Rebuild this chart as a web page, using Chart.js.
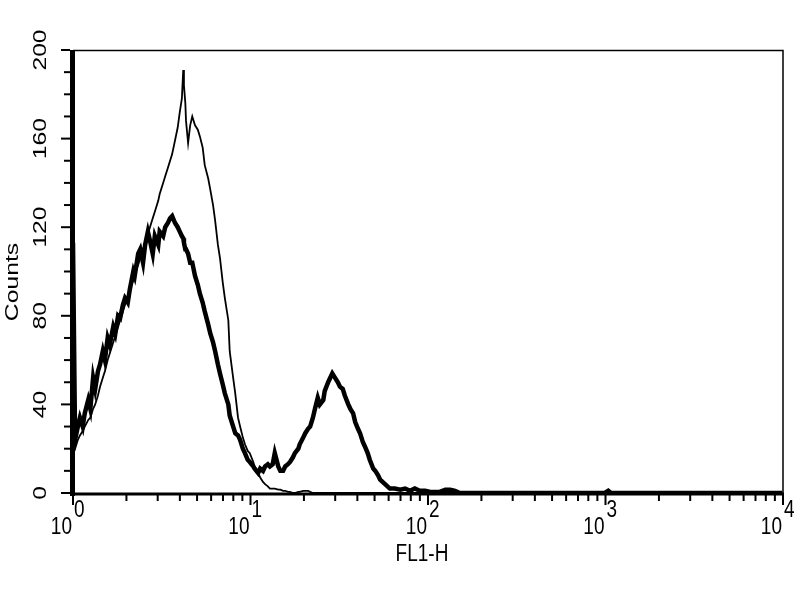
<!DOCTYPE html>
<html>
<head>
<meta charset="utf-8">
<title>FL1-H histogram</title>
<script src="https://cdn.jsdelivr.net/npm/chart.js@4/dist/chart.umd.min.js"></script>
<style>
    html, body { margin: 0; padding: 0; background: #fff; }
    #wrap { width: 800px; height: 600px; }
</style>
</head>
<body>
<div id="wrap"><canvas id="histChart" width="800" height="600"></canvas></div>
<script>
// FL1-H histogram (log channels, 1024 channels over 4 decades)

const channels = [0, 3, 7, 10, 14, 17, 22, 25, 29, 32, 36, 39, 43, 46, 50, 53, 58, 61, 65, 68,
    72, 75, 79, 82, 87, 89, 94, 97, 101, 104, 108, 111, 115, 118, 123, 125, 130, 133, 137, 140,
    143, 147, 151, 154, 157, 159, 160, 162, 163, 166, 169, 172, 176, 180, 183, 187, 190, 195, 198, 202,
    205, 209, 212, 216, 219, 224, 226, 231, 234, 238, 241, 245, 248, 252, 255, 260, 262, 267, 270, 274,
    277, 281, 284, 288, 291, 296, 299, 303, 306, 310, 313, 317, 320, 325, 327, 332, 335, 339, 342, 346,
    349, 353, 356, 361, 363, 368, 371, 374, 378, 382, 385, 389, 392, 397, 400, 404, 407, 411, 414, 418,
    421, 425, 428, 433, 436, 440, 443, 450, 457, 464, 472, 479, 486, 493, 500, 508, 515, 529, 537, 544,
    551, 558, 587, 760, 767, 772, 776, 904, 1023];

// thick line
const sampleCounts = [113, 24, 30, 34, 30, 36, 42, 38, 52, 47, 55, 58, 64, 60, 70, 67, 75, 72, 80, 79,
    85, 88, 86, 92, 100, 98, 108, 110, 104, 112, 118, 114, 108, 116, 112, 118, 116, 120, 122, 124,
    125, 122, 120, 118, 116, 115, 113, 110, 110, 108, 104, 104, 98, 94, 90, 86, 82, 76, 72, 68,
    64, 58, 54, 49, 45, 40, 35, 30, 27, 26, 24, 20, 18, 15, 14, 12, 11, 9, 11, 10,
    12, 13, 12, 13, 18, 12, 10, 10, 12, 13, 14, 16, 18, 20, 22, 25, 27, 29, 30, 34,
    38, 43, 40, 42, 46, 50, 52, 54, 52, 50, 48, 47, 44, 40, 38, 36, 32, 29, 27, 23,
    21, 18, 15, 11, 10, 8, 6, 4, 2, 2, 1.5, 2, 1, 2, 1, 1, 0.5, 0.5, 1.5, 1.5,
    1, 0, 0, 0, 0, 1, 0, 0, 0];

// thin line
const controlCounts = [22, 20, 24, 26, 28, 30, 33, 34, 38, 40, 44, 48, 52, 55, 60, 63, 68, 71, 75, 78,
    82, 85, 89, 92, 96, 99, 103, 106, 110, 113, 117, 120, 124, 127, 132, 135, 140, 143, 147, 150,
    153, 159, 165, 172, 178, 191, 184, 176, 168, 158, 166, 170, 166, 164, 161, 156, 148, 142, 137, 130,
    123, 112, 106, 95, 88, 78, 64, 52, 45, 34, 30, 25, 22, 19, 18, 14, 12, 9, 7, 5,
    4, 3, 2, 2, 2, 1.5, 1.5, 1, 1, 0.5, 0.5, 0, 0, 0.5, 0.5, 1, 1, 1, 0.5, 0,
    0, 0, 0, 0, 0, 0, 0, 0, 0, 0, 0, 0, 0, 0, 0, 0, 0, 0, 0, 0,
    0, 0, 0, 0, 0, 0, 0, 0, 0, 0, 0, 0, 0, 0, 0, 0, 0, 0, 0, 0,
    0, 0, 0, 0, 0, 0, 0, 0, 0];

const yTicks = [0, 40, 80, 120, 160, 200];
const yTickLabels = ['0', '40', '80', '120', '160', '200'];
const xDecades = [1, 10, 100, 1000, 10000];
const xExponents = ['0', '1', '2', '3', '4'];

const CHANNELS_PER_DECADE = 256;
const TEXT_STRETCH = 1.3;
const FONT = '19px "Liberation Sans", Arial, sans-serif';

function toPoints(counts) {
    return channels.map((ch, i) => ({ x: Math.pow(10, ch / CHANNELS_PER_DECADE), y: counts[i] }));
}

function drawText(ctx, text, px, py, rotated, align, baseline) {
    ctx.save();
    ctx.translate(px, py);
    if (rotated) {
        ctx.rotate(-Math.PI / 2);
        ctx.scale(TEXT_STRETCH, 1);
    } else {
        ctx.scale(1, TEXT_STRETCH);
    }
    ctx.textAlign = align;
    ctx.textBaseline = baseline;
    ctx.fillText(text, 0, 0);
    ctx.restore();
}

// frame, ticks and labels drawn from the chart's own scales
const facsAxes = {
    id: 'facsAxes',
    afterDraw(chart) {
        const { ctx, chartArea: a } = chart;
        const xs = chart.scales.x;
        const ys = chart.scales.y;
        ctx.save();
        ctx.strokeStyle = '#000';
        ctx.fillStyle = '#000';
        ctx.lineCap = 'butt';

        // top and right, thin
        ctx.lineWidth = 1.5;
        ctx.beginPath();
        ctx.moveTo(a.left, a.top + 0.5);
        ctx.lineTo(a.right, a.top + 0.5);
        ctx.lineTo(a.right, a.bottom);
        ctx.stroke();

        // bottom axis
        ctx.lineWidth = 3;
        ctx.beginPath();
        ctx.moveTo(a.left, a.bottom + 1);
        ctx.lineTo(a.right + 1, a.bottom + 1);
        ctx.stroke();

        // left axis, heavy
        ctx.lineWidth = 5;
        ctx.beginPath();
        ctx.moveTo(a.left - 0.5, a.top);
        ctx.lineTo(a.left - 0.5, a.bottom + 3);
        ctx.stroke();

        // y ticks every 10 counts
        ctx.lineWidth = 2;
        for (let v = 0; v <= 200; v += 10) {
            const py = ys.getPixelForValue(v);
            const len = (v % 40 === 0) ? 9 : 6;
            ctx.beginPath();
            ctx.moveTo(a.left - 3 - len, py);
            ctx.lineTo(a.left - 3, py);
            ctx.stroke();
        }

        // x ticks, decades and 2..9 minors
        xDecades.forEach((d, i) => {
            for (let m = 1; m <= 9; m++) {
                if (i === xDecades.length - 1 && m > 1) break;
                const px = xs.getPixelForValue(d * m);
                const len = m === 1 ? 10 : 6;
                ctx.beginPath();
                ctx.moveTo(px, a.bottom + 2);
                ctx.lineTo(px, a.bottom + 2 + len);
                ctx.stroke();
            }
        });

        ctx.font = FONT;

        // y labels, rotated
        yTicks.forEach((v, i) => {
            drawText(ctx, yTickLabels[i], 41, ys.getPixelForValue(v), true, 'center', 'middle');
        });

        // x labels as 10 with raised exponent
        xDecades.forEach((d, i) => {
            const px = xs.getPixelForValue(d);
            drawText(ctx, '10', px - 1, 534, false, 'right', 'alphabetic');
            drawText(ctx, xExponents[i], px + 1, 517, false, 'left', 'alphabetic');
        });

        drawText(ctx, 'Counts', 13, 282, true, 'center', 'middle');
        drawText(ctx, 'FL1-H', 422, 561, false, 'center', 'alphabetic');
        ctx.restore();
    }
};

const ctx = document.getElementById('histChart').getContext('2d');

new Chart(ctx, {
    type: 'line',
    data: {
        datasets: [
            {
                label: 'Control',
                data: toPoints(controlCounts),
                borderColor: '#000',
                borderWidth: 1.8,
                pointRadius: 0,
                tension: 0,
                fill: false
            },
            {
                label: 'Sample',
                data: toPoints(sampleCounts),
                borderColor: '#000',
                borderWidth: 4.5,
                pointRadius: 0,
                tension: 0,
                fill: false
            }
        ]
    },
    options: {
        responsive: false,
        animation: false,
        layout: {
            padding: { left: 73, right: 17, top: 50, bottom: 107 }
        },
        plugins: {
            legend: { display: false },
            tooltip: { enabled: false }
        },
        scales: {
            x: {
                type: 'logarithmic',
                min: 1,
                max: 10000,
                display: false
            },
            y: {
                type: 'linear',
                min: 0,
                max: 200,
                display: false
            }
        }
    },
    plugins: [facsAxes]
});
</script>
</body>
</html>
